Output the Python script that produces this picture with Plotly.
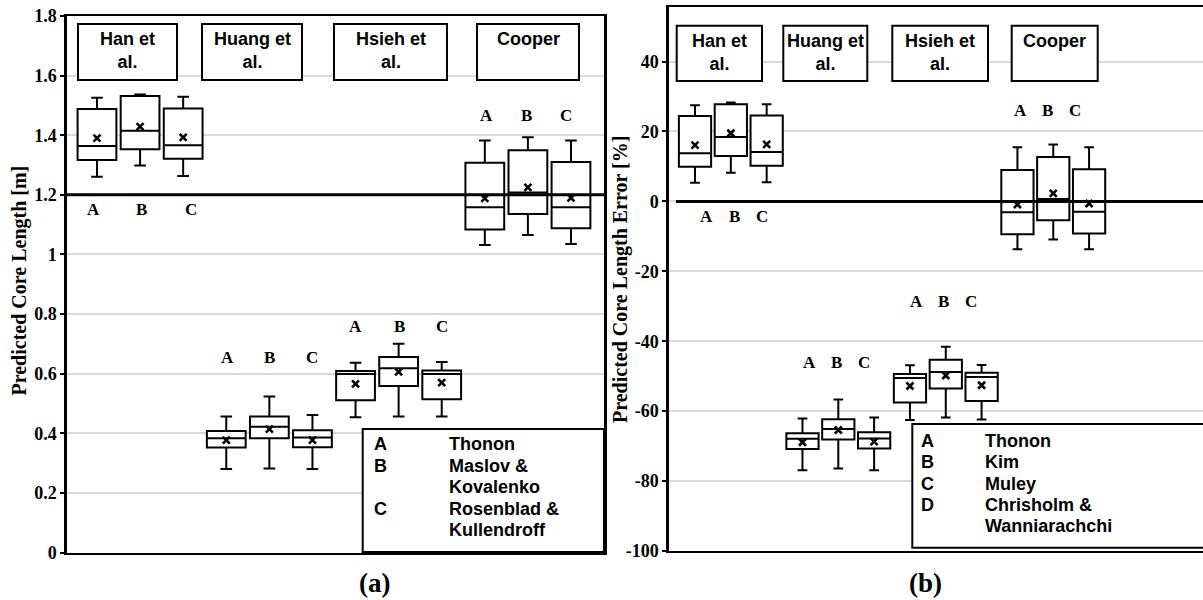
import plotly.graph_objects as go

# ---------------- data ----------------
groups = ["Han et<br>al.", "Huang et<br>al.", "Hsieh et<br>al.", "Cooper"]
letters = ["A", "B", "C"]

# (a) predicted core length [m]; order: Han A,B,C | Huang A,B,C | Hsieh A,B,C | Cooper A,B,C
len_upper = [1.526, 1.537, 1.529, 0.456, 0.523, 0.461, 0.637, 0.700, 0.639, 1.382, 1.393, 1.382]
len_q3 = [1.488, 1.532, 1.490, 0.408, 0.456, 0.410, 0.609, 0.656, 0.611, 1.308, 1.350, 1.310]
len_median = [1.364, 1.415, 1.366, 0.383, 0.422, 0.386, 0.599, 0.618, 0.599, 1.158, 1.208, 1.158]
len_mean = [1.390, 1.429, 1.393, 0.377, 0.414, 0.377, 0.566, 0.606, 0.570, 1.188, 1.225, 1.190]
len_q1 = [1.317, 1.353, 1.321, 0.352, 0.383, 0.353, 0.511, 0.559, 0.514, 1.084, 1.136, 1.088]
len_lower = [1.261, 1.298, 1.263, 0.280, 0.282, 0.280, 0.454, 0.456, 0.456, 1.032, 1.065, 1.035]
len_reference = 1.2

# (b) predicted core length error [%]
err_upper = [27.5, 28.3, 27.8, -62.1, -56.7, -61.8, -46.9, -41.6, -46.8, 15.5, 16.3, 15.5]
err_q3 = [24.4, 27.8, 24.6, -66.3, -62.3, -66.0, -49.4, -45.3, -49.0, 9.0, 12.7, 9.2]
err_median = [13.8, 18.4, 14.1, -67.9, -65.1, -67.8, -50.5, -48.8, -50.2, -3.1, 0.7, -3.0]
err_mean = [16.1, 19.5, 16.3, -68.9, -65.4, -68.7, -52.8, -49.8, -52.6, -0.9, 2.3, -0.6]
err_q1 = [9.9, 13.0, 10.2, -70.8, -68.1, -70.7, -57.5, -53.5, -57.1, -9.4, -5.4, -9.2]
err_lower = [5.3, 8.2, 5.5, -76.9, -76.4, -76.9, -62.5, -61.8, -62.4, -13.7, -10.9, -13.7]

# axis ticks
len_ticks = [0, 0.2, 0.4, 0.6, 0.8, 1, 1.2, 1.4, 1.6, 1.8]
len_tick_text = ["0", "0.2", "0.4", "0.6", "0.8", "1", "1.2", "1.4", "1.6", "1.8"]
err_ticks = [-100, -80, -60, -40, -20, 0, 20, 40]
err_tick_text = ["-100", "-80", "-60", "-40", "-20", "0", "20", "40"]

legend_a_letters = ["A", "B", "", "C", ""]
legend_a_names = ["Thonon", "Maslov &", "Kovalenko", "Rosenblad &", "Kullendroff"]
legend_b_letters = ["A", "B", "C", "D", ""]
legend_b_names = ["Thonon", "Kim", "Muley", "Chrisholm &", "Wanniarachchi"]

# ---------------- layout helpers ----------------
W, H = 1203, 600
SERIF = "Liberation Serif"
SANS = "Liberation Sans"


def px(x):
    return x / W


def py(y):
    return 1 - y / H


positions = list(range(len(len_q1)))

fig = go.Figure()


def add_panel(xa, ya, q1, med, q3, lo, hi, mean):
    fig.add_trace(go.Box(
        x=positions, q1=q1, median=med, q3=q3, lowerfence=lo, upperfence=hi,
        xaxis=xa, yaxis=ya, width=0.9, whiskerwidth=0.3, fillcolor="white",
        line=dict(color="black", width=2), boxpoints=False,
        showlegend=False, hoverinfo="skip"))
    fig.add_trace(go.Scatter(
        x=positions, y=mean, xaxis=xa, yaxis=ya, mode="markers",
        marker=dict(symbol="x-thin", size=7, color="black",
                    line=dict(width=2.6, color="black")),
        showlegend=False, hoverinfo="skip"))


add_panel("x", "y", len_q1, len_median, len_q3, len_lower, len_upper, len_mean)
add_panel("x2", "y2", err_q1, err_median, err_q3, err_lower, err_upper, err_mean)

grid = "#d9d9d9"


def tick_font():
    return dict(family=SERIF, size=18, color="black", weight=700)


fig.update_layout(
    width=W, height=H, margin=dict(l=0, r=0, t=0, b=0, pad=0, autoexpand=False),
    template="none",
    font=dict(family=SERIF, size=18, color="black", weight=700),
    paper_bgcolor="white", plot_bgcolor="white", boxmode="overlay",
    xaxis=dict(domain=[px(67), px(604)], range=[-0.696, 11.766], automargin=False,
               showticklabels=False, ticks="", showgrid=False, zeroline=False,
               showline=True, mirror=True, linecolor="black", linewidth=2),
    yaxis=dict(domain=[py(552.5), py(16)], range=[0, 1.8], automargin=False,
               tickmode="array", tickvals=len_ticks, ticktext=len_tick_text,
               tickfont=tick_font(), ticks="outside", ticklen=4, tickwidth=2,
               tickcolor="black", showgrid=True, gridcolor=grid, gridwidth=1.5,
               zeroline=False, showline=True, mirror=True, linecolor="black",
               linewidth=2.5),
    xaxis2=dict(domain=[px(669), 1.0], range=[-0.726, 14.18], anchor="y2",
                automargin=False, showticklabels=False, ticks="", showgrid=False,
                zeroline=False, showline=True, mirror=True, linecolor="black",
                linewidth=2),
    yaxis2=dict(domain=[py(551), py(7)], range=[-100, 55.6], anchor="x2",
                automargin=False, tickmode="array", tickvals=err_ticks,
                ticktext=err_tick_text, tickfont=tick_font(), ticks="outside",
                ticklen=4, tickwidth=2, tickcolor="black", showgrid=True,
                gridcolor=grid, gridwidth=1.5, zeroline=False, showline=True,
                mirror=False, linecolor="black", linewidth=2.5),
)

shapes = []
annotations = []

# reference lines
shapes.append(dict(type="line", xref="x domain", yref="y", x0=0, x1=1,
                   y0=len_reference, y1=len_reference,
                   line=dict(color="black", width=3)))
shapes.append(dict(type="line", xref="x2 domain", yref="y2", x0=0.013, x1=1,
                   y0=0, y1=0, line=dict(color="black", width=3)))

# study name boxes across the top of each panel
name_boxes = {
    "a": dict(xs=[(78, 177), (202, 302), (334, 447), (477, 579)], y=(24, 80)),
    "b": dict(xs=[(676.7, 762), (783.3, 867.3), (892.3, 988), (1011.7, 1097.7)],
              y=(25.7, 81)),
}
for panel in name_boxes.values():
    y0, y1 = panel["y"]
    for (x0, x1), name in zip(panel["xs"], groups):
        shapes.append(dict(type="rect", xref="paper", yref="paper",
                           x0=px(x0), x1=px(x1), y0=py(y1), y1=py(y0),
                           fillcolor="white", line=dict(color="black", width=2)))
        annotations.append(dict(xref="paper", yref="paper", x=px((x0 + x1) / 2),
                                y=py(y0 + 3), xanchor="center", yanchor="top",
                                text=name, showarrow=False, align="center",
                                font=dict(family=SANS, size=18, color="black",
                                          weight="bold")))

# A / B / C letters above each group of boxes
letter_layout = {
    ("x", "y"): dict(centers=[1.04, 4.01, 7.01, 9.97], gaps=[1.13, 0.97, 1.0, 0.92],
                     heights=[1.152, 0.653, 0.758, 1.465]),
    ("x2", "y2"): dict(centers=[1.09, 3.96, 6.93, 9.85], gaps=[0.77, 0.77, 0.76, 0.77],
                       heights=[-4.4, -46.1, -28.7, 26.1]),
}
for (xa, ya), cfg in letter_layout.items():
    for c, g, h in zip(cfg["centers"], cfg["gaps"], cfg["heights"]):
        for k, letter in enumerate(letters):
            annotations.append(dict(xref=xa, yref=ya, x=c + (k - 1) * g, y=h,
                                    xanchor="center", yanchor="middle",
                                    text=letter, showarrow=False,
                                    font=dict(family=SERIF, size=17, color="black",
                                              weight="bold")))

# method keys
keys = [
    dict(box=(362.7, 429, 604, 552), col1=371.7, col2=446.7, row0=444, pitch=21.5,
         letters=legend_a_letters, names=legend_a_names),
    dict(box=(912.3, 424, 1215, 547.7), col1=919, col2=983.3, row0=441, pitch=21.25,
         letters=legend_b_letters, names=legend_b_names),
]
for key in keys:
    x0, y0, x1, y1 = key["box"]
    shapes.append(dict(type="rect", xref="paper", yref="paper", x0=px(x0), x1=px(x1),
                       y0=py(y1), y1=py(y0), fillcolor="white",
                       line=dict(color="black", width=2)))
    for i, (letter, name) in enumerate(zip(key["letters"], key["names"])):
        yy = py(key["row0"] + i * key["pitch"])
        for xx, txt in ((key["col1"], letter), (key["col2"], name)):
            if txt:
                annotations.append(dict(xref="paper", yref="paper", x=px(xx), y=yy,
                                        xanchor="left", yanchor="middle", text=txt,
                                        showarrow=False,
                                        font=dict(family=SANS, size=18, color="black",
                                                  weight="bold")))

# axis titles and panel captions
annotations.append(dict(xref="paper", yref="paper", x=px(19), y=py(280.5),
                        xanchor="center", yanchor="middle",
                        text="Predicted Core Length [m]", textangle=-90,
                        showarrow=False,
                        font=dict(family=SERIF, size=20, color="black", weight="bold")))
annotations.append(dict(xref="paper", yref="paper", x=px(620), y=py(280),
                        xanchor="center", yanchor="middle",
                        text="Predicted Core Length Error [%]", textangle=-90,
                        showarrow=False,
                        font=dict(family=SERIF, size=20, color="black", weight="bold")))
for cx, cap in ((374, "(a)"), (925, "(b)")):
    annotations.append(dict(xref="paper", yref="paper", x=px(cx), y=py(583),
                            xanchor="center", yanchor="middle",
                            text=cap, showarrow=False,
                            font=dict(family=SERIF, size=27, color="black",
                                      weight="bold")))

fig.update_layout(shapes=shapes, annotations=annotations)
fig.write_html("out.html")
